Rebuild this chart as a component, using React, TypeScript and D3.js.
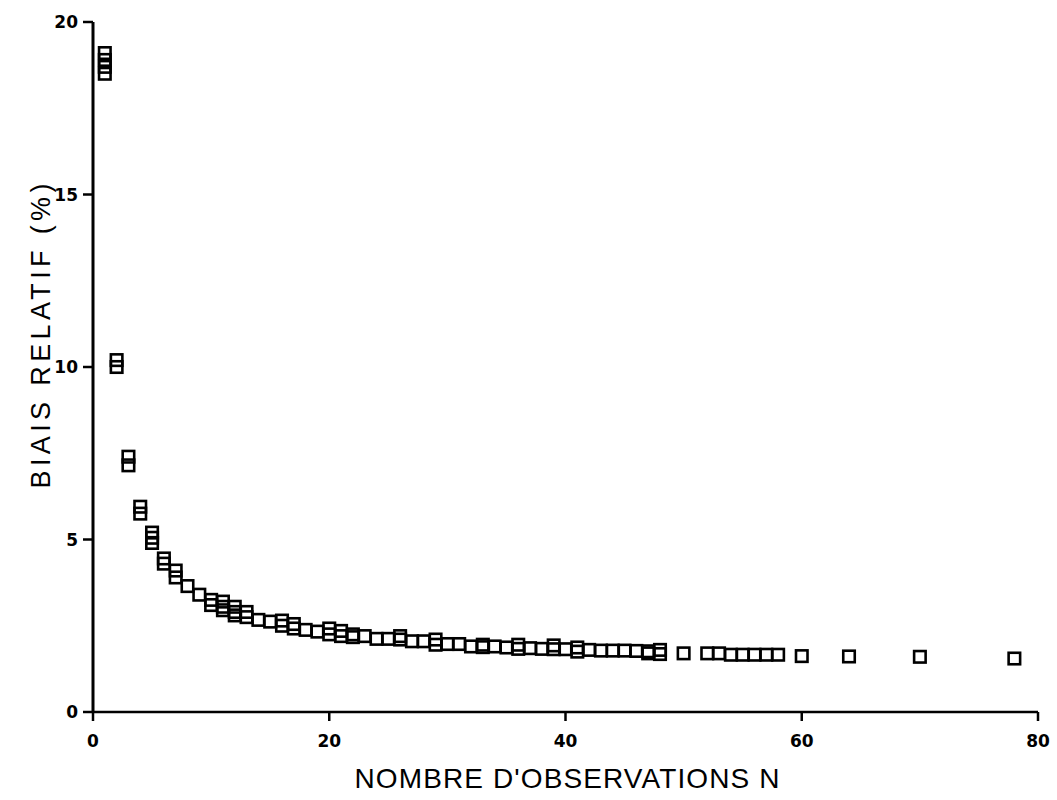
import React from "react";
import * as d3 from "d3";

const obsN: number[] = [
  1, 1, 1, 1,
  2, 2,
  3, 3,
  4, 4,
  5, 5, 5,
  6, 6,
  7, 7,
  8,
  9,
  10, 10,
  11, 11, 11,
  12, 12, 12,
  13, 13,
  14,
  15,
  16, 16,
  17, 17,
  18,
  19,
  20, 20,
  21, 21,
  22, 22,
  23,
  24,
  25,
  26, 26,
  27,
  28,
  29, 29,
  30,
  31,
  32,
  33, 33,
  34,
  35,
  36, 36,
  37,
  38,
  39, 39,
  40,
  41, 41,
  42,
  43,
  44,
  45,
  46,
  47, 47,
  48, 48,
  50,
  52,
  53,
  54,
  55,
  56,
  57,
  58,
  60,
  64,
  70,
  78,
];

const biasPct: number[] = [
  19.1, 18.9, 18.7, 18.5,
  10.2, 10.0,
  7.4, 7.15,
  5.95, 5.75,
  5.2, 5.05, 4.9,
  4.45, 4.3,
  4.1, 3.9,
  3.65,
  3.4,
  3.25, 3.1,
  3.2, 3.05, 2.95,
  3.05, 2.9, 2.8,
  2.9, 2.75,
  2.67,
  2.62,
  2.65, 2.5,
  2.55, 2.42,
  2.38,
  2.33,
  2.42, 2.25,
  2.35, 2.2,
  2.25, 2.17,
  2.2,
  2.12,
  2.12,
  2.2, 2.1,
  2.05,
  2.05,
  2.1, 1.95,
  1.97,
  1.97,
  1.9,
  1.95, 1.88,
  1.9,
  1.87,
  1.95, 1.83,
  1.85,
  1.83,
  1.93, 1.82,
  1.82,
  1.87, 1.75,
  1.8,
  1.78,
  1.78,
  1.78,
  1.77,
  1.76, 1.7,
  1.8, 1.68,
  1.7,
  1.7,
  1.7,
  1.66,
  1.66,
  1.66,
  1.66,
  1.66,
  1.62,
  1.61,
  1.6,
  1.55,
];

const xTicks: number[] = [0, 20, 40, 60, 80];
const yTicks: number[] = [0, 5, 10, 15, 20];
const xTitle = "NOMBRE D'OBSERVATIONS N";
const yTitle = "BIAIS RELATIF (%)";

export default function App() {
  const W = 1057;
  const H = 800;
  const x = d3.scaleLinear().domain([0, 80]).range([93, 1038]);
  const y = d3.scaleLinear().domain([0, 20]).range([712, 22]);
  const s = 11.5;
  const tickFont = "'DejaVu Sans', sans-serif";
  const titleFont = "'Liberation Sans', Arial, sans-serif";

  return (
    <svg
      width={W}
      height={H}
      viewBox={`0 0 ${W} ${H}`}
      style={{ position: "absolute", left: 0, top: 0, background: "#fff" }}
    >
      <rect x={0} y={0} width={W} height={H} fill="#fff" />
      {/* axes */}
      <line x1={x(0)} y1={y(20)} x2={x(0)} y2={y(0)} stroke="#000" strokeWidth={3} />
      <line x1={x(0)} y1={y(0)} x2={x(80)} y2={y(0)} stroke="#000" strokeWidth={2.5} />
      {yTicks.map((t) => (
        <g key={"y" + t}>
          <line x1={x(0) - 10} x2={x(0)} y1={y(t)} y2={y(t)} stroke="#000" strokeWidth={2.5} />
          <text
            x={78}
            y={y(t)}
            dy="0.36em"
            textAnchor="end"
            fontFamily={tickFont}
            fontWeight="bold"
            fontSize={17}
            fill="#000"
          >
            {t}
          </text>
        </g>
      ))}
      {xTicks.map((t) => (
        <g key={"x" + t}>
          <line x1={x(t)} x2={x(t)} y1={y(0)} y2={y(0) + 9} stroke="#000" strokeWidth={2.5} />
          <text
            x={x(t)}
            y={747}
            textAnchor="middle"
            fontFamily={tickFont}
            fontWeight="bold"
            fontSize={17}
            fill="#000"
          >
            {t}
          </text>
        </g>
      ))}
      {/* titles */}
      <text
        x={567}
        y={788}
        textAnchor="middle"
        fontFamily={titleFont}
        fontSize={28}
        textLength={425}
        lengthAdjust="spacing"
        fill="#000"
      >
        {xTitle}
      </text>
      <text
        transform={`translate(50, 336) rotate(-90)`}
        textAnchor="middle"
        fontFamily={titleFont}
        fontSize={27}
        textLength={305}
        lengthAdjust="spacing"
        fill="#000"
      >
        {yTitle}
      </text>
      {/* markers */}
      {obsN.map((n, i) => (
        <rect
          key={"m" + i}
          x={x(n) - s / 2}
          y={y(biasPct[i]) - s / 2}
          width={s}
          height={s}
          fill="none"
          stroke="#000"
          strokeWidth={2.6}
        />
      ))}
    </svg>
  );
}
